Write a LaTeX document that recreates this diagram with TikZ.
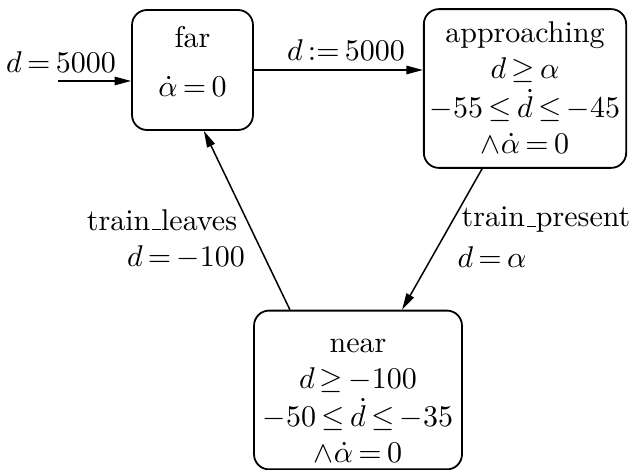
\documentclass[tikz,border=0pt]{standalone}
\usetikzlibrary{arrows.meta}

\thickmuskip=3.2mu plus 1mu
\newcommand{\usc}{\leavevmode\kern.06em\vbox{\hrule width.3em}}
\newcommand{\shiftbox}[2]{\raisebox{#1}[\height][\depth]{\begin{tabular}{@{}c@{}}#2\end{tabular}}}

\tikzset{
  location/.style={draw, rounded corners=5pt, line width=0.6pt, inner sep=2pt},
  trans/.style={-{Triangle[length=5.5pt,width=2.8pt]}, line width=0.5pt},
}

\begin{document}
\begin{tikzpicture}[x=0.3333pt, y=-0.3333pt]
\useasboundingbox (0,0) rectangle (629,470);

%Location Drawings

\node [location, minimum width=40.3pt, minimum height=40pt] (far) at (192.5,70)
  {\shiftbox{1.8pt}{far\\[4.5pt]$\dot{\alpha}=0$}};
\node [location, minimum width=67.3pt, minimum height=52.3pt] (approaching) at (525,88.5)
  {\shiftbox{-0.8pt}{approaching\\$d\geq\alpha$\\$-55\leq\dot{d}\leq-45$\\$\wedge\dot{\alpha}=0$}};
\node [location, minimum width=69.3pt, minimum height=52pt] (near) at (358,390)
  {\shiftbox{-3.4pt}{near\\$d\geq-100$\\$-50\leq\dot{d}\leq-35$\\$\wedge\dot{\alpha}=0$}};

%Transition Drawings

\coordinate (start) at (58,81);
\draw [trans] (start) -- (start -| far.west);
\draw [trans] (far.east) -- (approaching.west |- far.east);
\draw [trans] ([xshift=-14.3pt]approaching.south) -- ([xshift=14.7pt]near.north);
\draw [trans] ([xshift=-22.7pt]near.north) -- ([xshift=3.8pt]far.south);

%Transition labels

\node (initlabel) at (61,62) {$d=5000$};
\node (resetlabel) at (346,50) {$d:=5000$};

\node (presentlabel) at (546,220) {train\usc present};
\node (presentguard) at (492,257) {$d=\alpha$};

\node (leaveslabel) at (162,220) {train\usc leaves};
\node (leavesguard) at (186,257) {$d=-100$};

\end{tikzpicture}
\end{document}
